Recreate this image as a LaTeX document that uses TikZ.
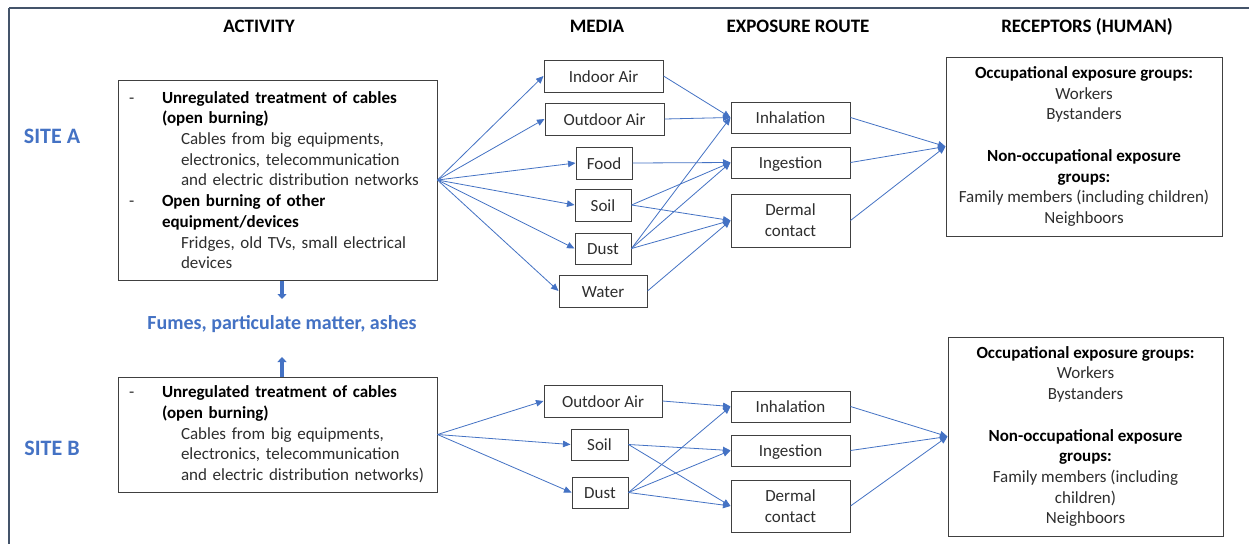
\documentclass[tikz,border=0pt]{standalone}
\usepackage{fontspec}
\setmainfont{Carlito}
\usetikzlibrary{arrows.meta}
\definecolor{ablue}{HTML}{4472C4}
\definecolor{framec}{HTML}{44546A}
\definecolor{boxline}{HTML}{404040}
\definecolor{txt}{HTML}{2E2E2E}
\newcommand\blk[1]{\textcolor{black}{\bfseries #1}}
\newcommand\dsh{\makebox[33pt][l]{-}}
\begin{document}
\begin{tikzpicture}[x=1pt,y=-1pt,
  bx/.style={draw=boxline, line width=1pt, inner sep=0pt, text=txt, font=\fontsize{17}{20.7}\selectfont},
  sbx/.style={bx, text height=12.5pt, text depth=0pt},
  arr/.style={draw=ablue, line width=0.8pt, -{Triangle[length=7.5pt,width=6.5pt]}},
  fat/.style={draw=ablue, line width=3.5pt, -{Triangle[length=5pt,width=9pt]}},
  hdr/.style={font=\bfseries\fontsize{19}{23}\selectfont, anchor=base, inner sep=0pt},
  site/.style={font=\bfseries\fontsize{22}{26}\selectfont, text=ablue, anchor=base, inner sep=0pt}]
\useasboundingbox (0,0) rectangle (1249,544);
\fill[white] (0,0) rectangle (1249,544);
% frame
\draw[framec, line width=2pt] (9,8) -- (9,544);
\draw[framec, line width=1.3pt] (9,8) -- (1249,8);
% headers
\node[hdr] (hAct) at (259,32) {ACTIVITY};
\node[hdr] (hMed) at (597,32) {MEDIA};
\node[hdr] (hExp) at (798,32) {EXPOSURE ROUTE};
\node[hdr] (hRec) at (1087,32) {RECEPTORS (HUMAN)};
\node[site] (siteA) at (52,143) {SITE A};
\node[site] (siteB) at (52,455) {SITE B};
% activity boxes
\node[bx, minimum width=319pt, minimum height=200pt, text width=297pt, inner xsep=11pt, align=left] (actA) at (277.5,180) {%
\dsh\blk{Unregulated treatment of cables}\\
\hspace*{33pt}\blk{(open burning)}\\
\hspace*{52pt}Cables from big equipments,\\
\hspace*{52pt}electronics, telecommunication\\
\hspace*{52pt}and electric distribution networks\\
\dsh\blk{Open burning of other}\\
\hspace*{33pt}\blk{equipment/devices}\\
\hspace*{52pt}Fridges, old TVs, small electrical\\
\hspace*{52pt}devices};
\node[bx, minimum width=319pt, minimum height=115pt, text width=297pt, inner xsep=11pt, align=left] (actB) at (277.5,434.5) {%
\dsh\blk{Unregulated treatment of cables}\\
\hspace*{33pt}\blk{(open burning)}\\
\hspace*{52pt}Cables from big equipments,\\
\hspace*{52pt}electronics, telecommunication\\
\hspace*{52pt}and electric distribution networks)};
% fumes
\node[font=\bfseries\fontsize{20}{24}\selectfont, text=ablue, anchor=base, inner sep=0pt] (fumes) at (282,329.5) {Fumes, particulate matter, ashes};
\coordinate (fA) at (282,299);
\coordinate (fB) at (282,357);
\draw[fat] (actA.south -| fA) -- (fA);
\draw[fat] (actB.north -| fB) -- (fB);
% media A
\node[sbx, minimum width=119pt, minimum height=32pt] (inA) at (603.5,76) {Indoor Air};
\node[sbx, minimum width=119pt, minimum height=32pt] (outA) at (604.5,119) {Outdoor Air};
\node[sbx, minimum width=56pt, minimum height=32pt] (foodA) at (604,163) {Food};
\node[sbx, minimum width=56pt, minimum height=32pt] (soilA) at (603,205) {Soil};
\node[sbx, minimum width=56pt, minimum height=31pt] (dustA) at (603,248.5) {Dust};
\node[sbx, minimum width=88pt, minimum height=32pt] (waterA) at (603,291) {Water};
% exposure A
\node[sbx, minimum width=119pt, minimum height=31pt] (inhA) at (790.5,117.5) {Inhalation};
\node[sbx, minimum width=119pt, minimum height=31pt] (ingA) at (790.5,162.5) {Ingestion};
\node[bx, minimum width=119pt, minimum height=53pt, align=center] (derA) at (790.5,220.5) {Dermal\\contact};
% receptors A
\node[bx, minimum width=276pt, minimum height=179pt, align=center] (recA) at (1084,146.5) {%
\blk{Occupational exposure groups:}\\Workers\\Bystanders\\[20.7pt]
\blk{Non-occupational exposure}\\\blk{groups:}\\Family members (including children)\\Neighboors};
% media B
\node[sbx, minimum width=118pt, minimum height=32pt] (outB) at (603,401) {Outdoor Air};
\node[sbx, minimum width=57pt, minimum height=31pt] (soilB) at (599.5,444.5) {Soil};
\node[sbx, minimum width=56pt, minimum height=31pt] (dustB) at (600,492.5) {Dust};
% exposure B
\node[sbx, minimum width=119pt, minimum height=31pt] (inhB) at (790.5,406.5) {Inhalation};
\node[sbx, minimum width=119pt, minimum height=31pt] (ingB) at (790.5,450.5) {Ingestion};
\node[bx, minimum width=119pt, minimum height=52pt, align=center] (derB) at (790.5,506) {Dermal\\contact};
% receptors B
\node[bx, minimum width=275pt, minimum height=199pt, align=center] (recB) at (1085.5,436.5) {%
\blk{Occupational exposure groups:}\\Workers\\Bystanders\\[20.7pt]
\blk{Non-occupational exposure}\\\blk{groups:}\\Family members (including\\children)\\Neighboors};
% arrows A
\foreach \m in {inA,outA,foodA,soilA,dustA,waterA} \draw[arr] (actA.east) -- (\m.west);
\draw[arr] (inA.east) -- (inhA.west);
\draw[arr] (outA.east) -- (inhA.west);
\draw[arr] (foodA.east) -- (ingA.west);
\draw[arr] (soilA.east) -- (ingA.west);
\draw[arr] (soilA.east) -- (derA.west);
\draw[arr] (dustA.east) -- (inhA.west);
\draw[arr] (dustA.east) -- (ingA.west);
\draw[arr] (dustA.east) -- (derA.west);
\draw[arr] (waterA.east) -- (derA.west);
\foreach \e in {inhA,ingA,derA} \draw[arr] (\e.east) -- (recA.west);
% arrows B
\foreach \m in {outB,soilB,dustB} \draw[arr] (actB.east) -- (\m.west);
\draw[arr] (outB.east) -- (inhB.west);
\draw[arr] (soilB.east) -- (ingB.west);
\draw[arr] (soilB.east) -- (derB.west);
\draw[arr] (dustB.east) -- (inhB.west);
\draw[arr] (dustB.east) -- (ingB.west);
\draw[arr] (dustB.east) -- (derB.west);
\foreach \e in {inhB,ingB,derB} \draw[arr] (\e.east) -- (recB.west);
\end{tikzpicture}
\end{document}
